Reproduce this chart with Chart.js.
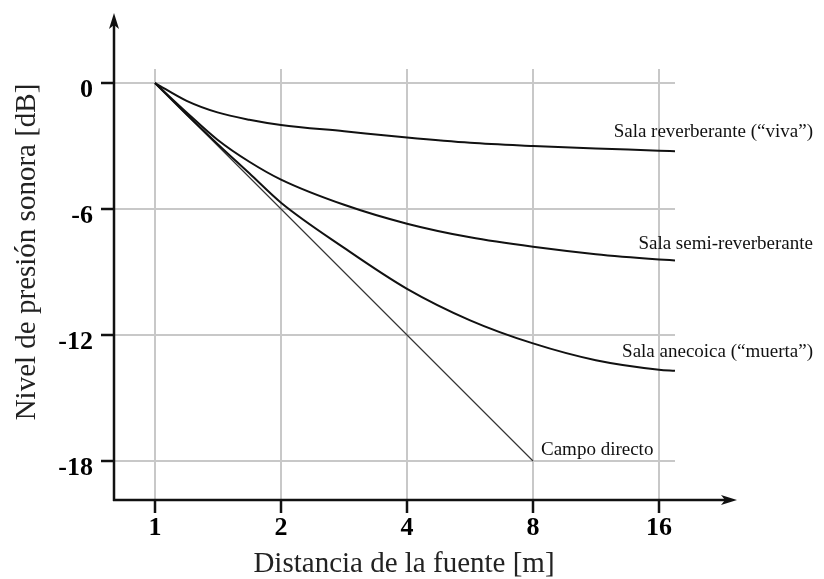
<!DOCTYPE html>
<html>
<head>
<meta charset="utf-8">
<script src="https://cdn.jsdelivr.net/npm/chart.js@4"></script>
<style>
  html, body { margin: 0; padding: 0; background: #fff; }
  #wrap { width: 824px; height: 579px; }
</style>
</head>
<body>
<div id="wrap"><canvas id="c" width="824" height="579"></canvas></div>
<script>
// distances in metres, levels in dB relative to 1 m
const distances = [1, 1.19, 1.41, 1.68, 2, 2.83, 4, 5.66, 8, 11.3, 16, 17.47];
const reverberante = [0, -0.85, -1.4, -1.75, -2.0, -2.3, -2.6, -2.85, -3.0, -3.12, -3.22, -3.25];
const semiReverberante = [0, -1.4, -2.7, -3.75, -4.6, -5.8, -6.7, -7.35, -7.8, -8.15, -8.4, -8.45];
const anecoica = [0, -1.5, -2.9, -4.3, -5.7, -7.85, -9.8, -11.3, -12.4, -13.2, -13.65, -13.7];
const directoDist = [1, 8];
const directo = [0, -18];

const xTicks = [1, 2, 4, 8, 16];
const yTicks = [0, -6, -12, -18];

const labels = [
  'Sala reverberante (\u201cviva\u201d)',
  'Sala semi-reverberante',
  'Sala anecoica (\u201cmuerta\u201d)',
  'Campo directo'
];

const pts = (xs, ys) => xs.map((x, i) => ({x: x, y: ys[i]}));

const serif = "'Liberation Serif', 'Times New Roman', serif";

const overlay = {
  id: 'overlay',
  afterDraw(chart) {
    const {ctx, chartArea: a} = chart;
    ctx.save();
    ctx.strokeStyle = '#111';
    ctx.fillStyle = '#111';
    ctx.lineWidth = 2.5;
    // y axis with arrow
    ctx.beginPath();
    ctx.moveTo(a.left, a.bottom + 1);
    ctx.lineTo(a.left, 24);
    ctx.stroke();
    ctx.beginPath();
    ctx.moveTo(a.left, 13);
    ctx.lineTo(a.left + 5, 29);
    ctx.lineTo(a.left, 25);
    ctx.lineTo(a.left - 5, 29);
    ctx.closePath();
    ctx.fill();
    // x axis with arrow
    ctx.beginPath();
    ctx.moveTo(a.left - 1, a.bottom);
    ctx.lineTo(728, a.bottom);
    ctx.stroke();
    ctx.beginPath();
    ctx.moveTo(737, a.bottom);
    ctx.lineTo(721, a.bottom - 5);
    ctx.lineTo(725, a.bottom);
    ctx.lineTo(721, a.bottom + 5);
    ctx.closePath();
    ctx.fill();

    // axis titles
    ctx.fillStyle = '#222';
    ctx.font = '29px ' + serif;
    ctx.textAlign = 'center';
    ctx.textBaseline = 'alphabetic';
    ctx.fillText('Distancia de la fuente [m]', 404, 572);
    ctx.save();
    ctx.translate(35, 252);
    ctx.rotate(-Math.PI / 2);
    ctx.fillText('Nivel de presi\u00f3n sonora [dB]', 0, 0);
    ctx.restore();

    // curve labels
    ctx.fillStyle = '#111';
    ctx.font = '19px ' + serif;
    ctx.textAlign = 'right';
    ctx.fillText(labels[0], 813, 137);
    ctx.fillText(labels[1], 813, 249);
    ctx.fillText(labels[2], 813, 357);
    ctx.textAlign = 'left';
    ctx.fillText(labels[3], 541, 455);
    ctx.restore();
  }
};

const lineStyle = {
  borderColor: '#111',
  borderWidth: 2,
  pointRadius: 0,
  cubicInterpolationMode: 'monotone',
  fill: false
};

new Chart(document.getElementById('c'), {
  type: 'line',
  data: {
    datasets: [
      Object.assign({label: labels[0], data: pts(distances, reverberante)}, lineStyle),
      Object.assign({label: labels[1], data: pts(distances, semiReverberante)}, lineStyle),
      Object.assign({label: labels[2], data: pts(distances, anecoica)}, lineStyle),
      {label: labels[3], data: pts(directoDist, directo), borderColor: '#333', borderWidth: 1.2,
       pointRadius: 0, tension: 0, fill: false}
    ]
  },
  options: {
    responsive: false,
    animation: false,
    layout: {padding: {left: 0, top: 69, right: 149, bottom: 0}},
    plugins: {legend: {display: false}, tooltip: {enabled: false}},
    scales: {
      x: {
        type: 'logarithmic',
        min: 0.798,
        max: 17.47,
        afterBuildTicks: s => { s.ticks = xTicks.map(v => ({value: v})); },
        afterFit: s => { s.height = 79; },
        border: {display: false},
        grid: {color: '#c8c8c8', lineWidth: 2, tickColor: '#111', tickWidth: 2.5, tickLength: 13},
        ticks: {
          color: '#000',
          padding: 0,
          maxRotation: 0,
          autoSkip: false,
          font: {family: serif, size: 26, weight: 'bold'},
          callback: v => String(v)
        }
      },
      y: {
        type: 'linear',
        min: -19.857,
        max: 0.667,
        afterBuildTicks: s => { s.ticks = yTicks.map(v => ({value: v})); },
        afterFit: s => { s.width = 114; },
        border: {display: false},
        grid: {color: '#c8c8c8', lineWidth: 2, tickColor: '#111', tickWidth: 2.5, tickLength: 13},
        ticks: {
          color: '#000',
          padding: 8,
          labelOffset: 7,
          font: {family: serif, size: 26, weight: 'bold'},
          callback: v => String(v)
        }
      }
    }
  },
  plugins: [overlay]
});
</script>
</body>
</html>
